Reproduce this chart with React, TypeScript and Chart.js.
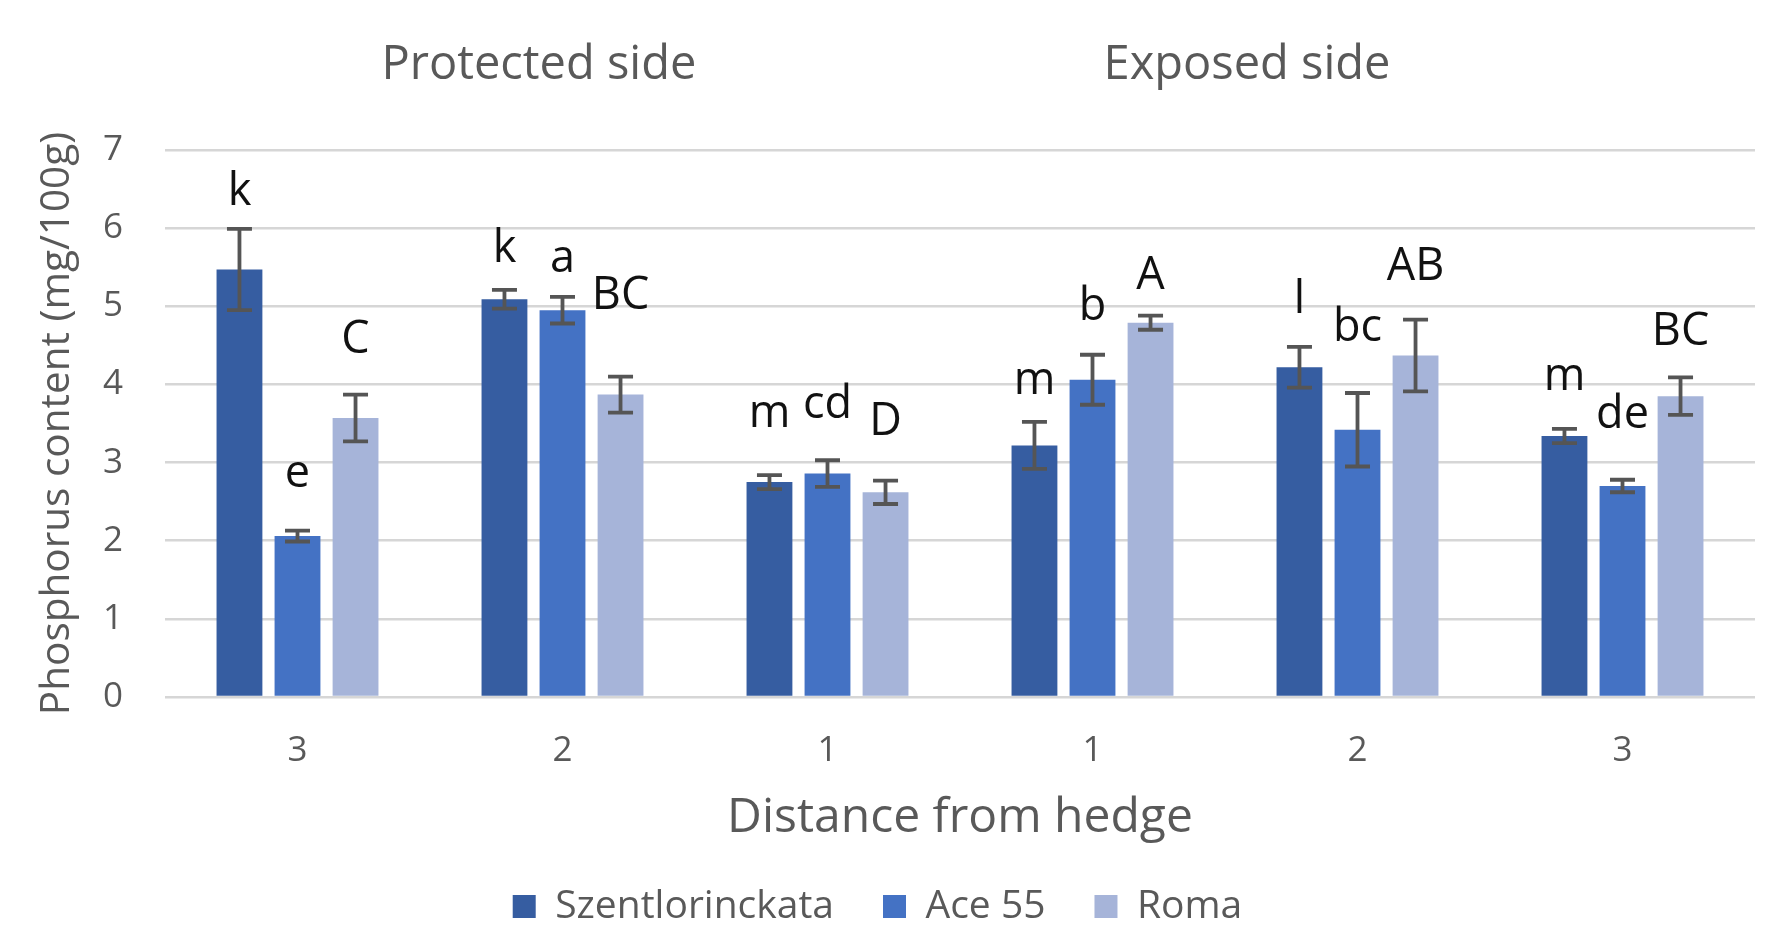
import React, { useEffect, useRef } from 'react';
import { Chart, registerables } from 'chart.js';

Chart.register(...registerables);

// ---------- data ----------
const distances = ['3', '2', '1', '1', '2', '3'];
const sideHeaders = ['Protected side', 'Exposed side'];
const seriesNames = ['Szentlorinckata', 'Ace 55', 'Roma'];

const szentValues = [5.47, 5.09, 2.75, 3.22, 4.22, 3.34];
const aceValues = [2.06, 4.95, 2.86, 4.06, 3.42, 2.7];
const romaValues = [3.57, 3.87, 2.62, 4.79, 4.37, 3.85];

const szentErrors = [0.52, 0.12, 0.09, 0.3, 0.26, 0.09];
const aceErrors = [0.07, 0.17, 0.17, 0.32, 0.47, 0.08];
const romaErrors = [0.3, 0.23, 0.15, 0.09, 0.46, 0.24];

const szentLetters = ['k', 'k', 'm', 'm', 'l', 'm'];
const aceLetters = ['e', 'a', 'cd', 'b', 'bc', 'de'];
const romaLetters = ['C', 'BC', 'D', 'A', 'AB', 'BC'];

// value (in mg/100g units) at which each letter's baseline sits
const szentLetterLevels = [6.29, 5.57, 3.46, 3.88, 4.92, 3.93];
const aceLetterLevels = [2.69, 5.44, 3.57, 4.83, 4.56, 3.44];
const romaLetterLevels = [4.4, 4.96, 3.35, 5.22, 5.33, 4.5];

const yMin = 0;
const yMax = 7;
const yStep = 1;

// ---------- styling ----------
const FONT = "'Open Sans', 'Noto Sans', 'DejaVu Sans', sans-serif";
const GREY_TEXT = '#595959';
const COLORS = ['#365da1', '#4472c4', '#a6b4d9'];
const HEADER_INDEX = [0.911, 3.583]; // fractional category positions of the side headers

const errorsBySeries = [szentErrors, aceErrors, romaErrors];
const lettersBySeries = [szentLetters, aceLetters, romaLetters];
const letterLevelsBySeries = [szentLetterLevels, aceLetterLevels, romaLetterLevels];

const annotationPlugin = {
  id: 'annotations',
  afterDatasetsDraw(chart: any) {
    const ctx = chart.ctx;
    const yScale = chart.scales.y;
    const xScale = chart.scales.x;
    ctx.save();
    // error bars
    chart.data.datasets.forEach((ds: any, i: number) => {
      const meta = chart.getDatasetMeta(i);
      meta.data.forEach((bar: any, j: number) => {
        const v = ds.data[j];
        const e = errorsBySeries[i][j];
        const x = bar.x;
        const yTop = yScale.getPixelForValue(v + e);
        const yBot = yScale.getPixelForValue(v - e);
        ctx.strokeStyle = '#555555';
        ctx.lineWidth = 3.8;
        ctx.beginPath();
        ctx.moveTo(x, yTop);
        ctx.lineTo(x, yBot);
        ctx.moveTo(x - 12.5, yTop);
        ctx.lineTo(x + 12.5, yTop);
        ctx.moveTo(x - 12.5, yBot);
        ctx.lineTo(x + 12.5, yBot);
        ctx.stroke();
      });
    });
    // letters
    ctx.fillStyle = '#111111';
    ctx.font = `45px ${FONT}`;
    ctx.textAlign = 'center';
    ctx.textBaseline = 'alphabetic';
    chart.data.datasets.forEach((ds: any, i: number) => {
      const meta = chart.getDatasetMeta(i);
      meta.data.forEach((bar: any, j: number) => {
        const y = yScale.getPixelForValue(letterLevelsBySeries[i][j]);
        ctx.fillText(lettersBySeries[i][j], bar.x, y);
      });
    });
    // side headers
    ctx.fillStyle = GREY_TEXT;
    ctx.font = `47px ${FONT}`;
    ctx.textBaseline = 'middle';
    sideHeaders.forEach((h, k) => {
      const x = xScale.getPixelForValue(HEADER_INDEX[k]);
      ctx.fillText(h, x, chart.chartArea.top - 84);
    });
    ctx.restore();
  },
};

export default function App() {
  const canvasRef = useRef<HTMLCanvasElement | null>(null);

  useEffect(() => {
    if (!canvasRef.current) return;
    const chart = new Chart(canvasRef.current, {
      type: 'bar',
      data: {
        labels: distances,
        datasets: [
          { label: seriesNames[0], data: szentValues, backgroundColor: COLORS[0] },
          { label: seriesNames[1], data: aceValues, backgroundColor: COLORS[1] },
          { label: seriesNames[2], data: romaValues, backgroundColor: COLORS[2] },
        ],
      },
      options: {
        responsive: false,
        maintainAspectRatio: false,
        animation: false,
        devicePixelRatio: 1,
        datasets: {
          bar: { categoryPercentage: 0.657, barPercentage: 0.79, borderWidth: 0 },
        },
        layout: { padding: { top: 150, right: 28, left: 0, bottom: -6 } },
        plugins: {
          legend: {
            position: 'bottom',
            labels: {
              boxWidth: 23,
              boxHeight: 23,
              padding: 49,
              color: GREY_TEXT,
              font: { family: FONT, size: 39 },
            },
          },
          tooltip: { enabled: false },
          title: { display: false },
        },
        scales: {
          x: {
            grid: { display: false, drawTicks: false },
            border: { display: false },
            ticks: { color: GREY_TEXT, font: { family: FONT, size: 35 }, padding: 33 },
            title: {
              display: true,
              text: 'Distance from hedge',
              color: GREY_TEXT,
              font: { family: FONT, size: 48, lineHeight: 1 },
              padding: { top: 0, bottom: -4 },
            },
            afterFit: (scale: any) => {
              scale.height = 141;
            },
          },
          y: {
            min: yMin,
            max: yMax,
            grid: { color: '#d6d6d6', lineWidth: 2.5, drawTicks: false },
            border: { display: false },
            ticks: {
              stepSize: yStep,
              color: GREY_TEXT,
              font: { family: FONT, size: 35 },
              padding: 42,
            },
            title: {
              display: true,
              text: 'Phosphorus content (mg/100g)',
              color: GREY_TEXT,
              font: { family: FONT, size: 40.5 },
              padding: { top: 33, bottom: 0 },
            },
            afterFit: (scale: any) => {
              scale.width = 165;
            },
          },
        },
      },
      plugins: [annotationPlugin],
    } as any);
    return () => chart.destroy();
  }, []);

  return (
    <div style={{ position: 'fixed', left: 0, top: 0, width: 1783, height: 930, background: '#fff' }}>
      <canvas ref={canvasRef} width={1783} height={930} style={{ width: 1783, height: 930 }} />
    </div>
  );
}
